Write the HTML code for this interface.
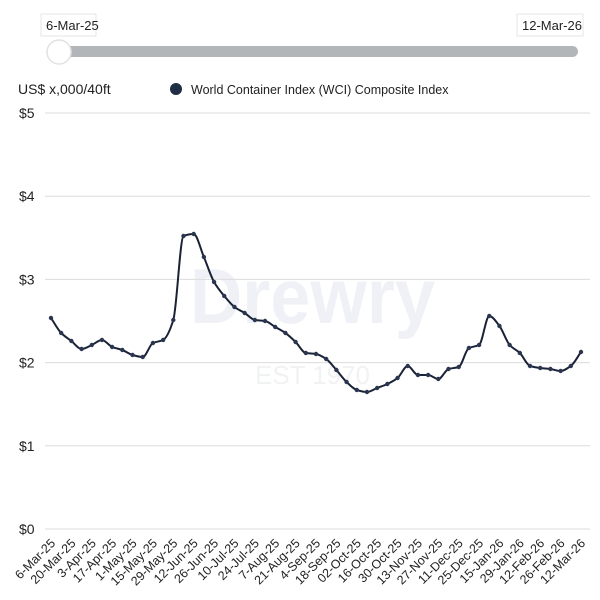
<!DOCTYPE html>
<html><head><meta charset="utf-8"><style>
html,body{margin:0;padding:0;background:#fff;}
svg{display:block;font-family:"Liberation Sans",Arial,sans-serif;}
</style></head><body>
<svg id="s" width="600" height="600" viewBox="0 0 600 600">
<text x="190" y="323" font-size="78" font-weight="bold" fill="#f0f1f6" textLength="245" lengthAdjust="spacingAndGlyphs">Drewry</text>
<text x="255" y="384" font-size="26" fill="#f1f2f4" textLength="115" lengthAdjust="spacingAndGlyphs">EST 1970</text>
<rect x="41" y="14" width="55" height="22" fill="#fff" stroke="#e6e6e6"/>
<text x="46" y="30" font-size="13" fill="#222">6-Mar-25</text>
<rect x="517" y="14" width="66" height="22" fill="#fff" stroke="#e6e6e6"/>
<text x="522" y="30" font-size="13" fill="#222">12-Mar-26</text>
<rect x="52" y="46" width="526" height="11" rx="5.5" fill="#b3b6b9"/>
<circle cx="59" cy="52" r="12" fill="#fff" stroke="#e2e2e2" stroke-width="1.5"/>
<text x="18" y="94" font-size="14" fill="#222">US$ x,000/40ft</text>
<circle cx="176" cy="89" r="6" fill="#1f2d45"/>
<text x="191" y="94" font-size="12.5" fill="#222">World Container Index (WCI) Composite Index</text>
<g id="grid"></g>
<path id="line" fill="none" stroke="#1a2236" stroke-width="2"/>
<g id="pts" fill="#2a3550"></g>
<g id="xl" font-size="12.5" fill="#222"></g>
</svg>
<script>
const ns="http://www.w3.org/2000/svg";
function el(t,a,p,txt){const e=document.createElementNS(ns,t);for(const k in a)e.setAttribute(k,a[k]);if(txt)e.textContent=txt;p.appendChild(e);return e;}
const g=document.getElementById('grid');
for(let i=0;i<=5;i++){const y=529-i*83.2;el('line',{x1:45,x2:590,y1:y,y2:y,stroke:'#dcdcdc','stroke-width':1},g);el('text',{x:19,y:y+5,'font-size':14,fill:'#222'},g,'$'+i);}
const ys=[318,333,341,349,345,340,347,350,355,357,343,340,320,236,234,257,282,296,307,313,320,321,327,333,342,353,354,359,370,382,390,392,388,384,378,366,375,375,379,369,367,348,345,316,326,345,353,366,368,369,371,366,352];
const x0=51,dx=(581-51)/52,n=ys.length;
const P=ys.map((y,i)=>[x0+i*dx,y]);
// monotone cubic
const s=[];for(let i=0;i<n-1;i++)s.push((ys[i+1]-ys[i])/dx);
const m=[s[0]];for(let i=1;i<n-1;i++){m.push(s[i-1]*s[i]<=0?0:(2/(1/s[i-1]+1/s[i])));}m.push(s[n-2]);
let d='M'+P[0][0]+','+P[0][1];
for(let i=0;i<n-1;i++){const h=dx/3;d+=` C${P[i][0]+h},${P[i][1]+m[i]*h} ${P[i+1][0]-h},${P[i+1][1]-m[i+1]*h} ${P[i+1][0]},${P[i+1][1]}`;}
document.getElementById('line').setAttribute('d',d);
const pg=document.getElementById('pts');P.forEach(p=>el('circle',{cx:p[0],cy:p[1],r:2.2},pg));
const labs=["6-Mar-25","20-Mar-25","3-Apr-25","17-Apr-25","1-May-25","15-May-25","29-May-25","12-Jun-25","26-Jun-25","10-Jul-25","24-Jul-25","7-Aug-25","21-Aug-25","4-Sep-25","18-Sep-25","02-Oct-25","16-Oct-25","30-Oct-25","13-Nov-25","27-Nov-25","11-Dec-25","25-Dec-25","15-Jan-26","29-Jan-26","12-Feb-26","26-Feb-26","12-Mar-26"];
const xl=document.getElementById('xl');
labs.forEach((l,i)=>{const x=x0+i*2*dx+5,y=544;el('text',{x:x,y:y,'text-anchor':'end',transform:`rotate(-45 ${x} ${y})`},xl,l);});
</script>
</body></html>
